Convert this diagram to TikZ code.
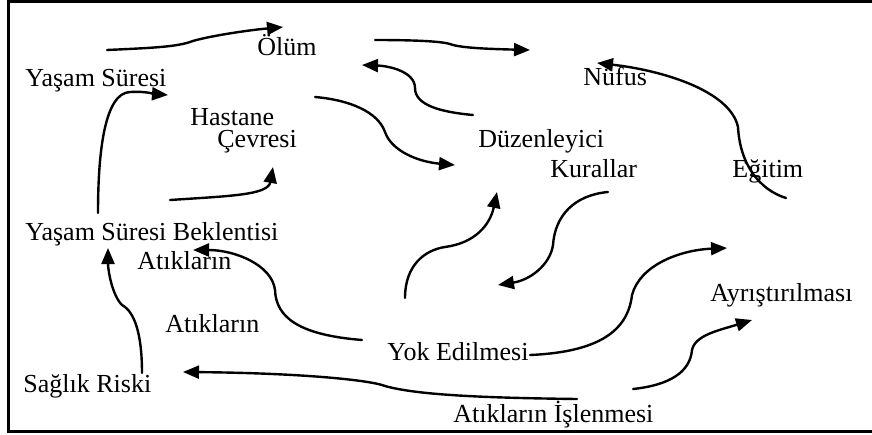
\documentclass[tikz,border=0pt]{standalone}
\usepackage{fontspec}
\setmainfont{Liberation Serif}
\usetikzlibrary{arrows.meta}
\begin{document}
\begin{tikzpicture}[x=0.5pt,y=-0.5pt,
  lbl/.style={anchor=base west,inner sep=0pt,font=\fontsize{13}{15}\selectfont},
  link/.style={line width=1.2pt,line cap=round,-{Triangle[length=8pt,width=6.5pt]}},
  frame/.style={line width=1.5pt}]
\useasboundingbox (0,0) rectangle (872,434);
% open frame (right side runs off the page)
\draw[frame] (872,1) -- (8,1) -- (8,431) -- (872,431);

% labels
\node[lbl] (ys)     at (25,86)   {Yaşam Süresi};
\node[lbl] (olum)   at (257,55)  {Ölüm};
\node[lbl] (hast)   at (190,125) {Hastane};
\node[lbl] (cevre)  at (217,147) {Çevresi};
\node[lbl] (nufus)  at (583,85)  {Nüfus};
\node[lbl] (duz)    at (478,147) {Düzenleyici};
\node[lbl] (kur)    at (550,177) {Kurallar};
\node[lbl] (egit)   at (732,177) {Eğitim};
\node[lbl] (ysb)    at (25,240)  {Yaşam Süresi Beklentisi};
\node[lbl] (atik1)  at (137,269) {Atıkların};
\node[lbl] (atik2)  at (165,332) {Atıkların};
\node[lbl] (yok)    at (387,360) {Yok Edilmesi};
\node[lbl] (ayr)    at (710,301) {Ayrıştırılması};
\node[lbl] (saglik) at (23,392)  {Sağlık Riski};
\node[lbl] (islen)  at (453,422) {Atıkların İşlenmesi};

% connector end points
\coordinate (a1s) at (107,50);  \coordinate (a1e) at (283,27);
\coordinate (a2s) at (375,40);  \coordinate (a2e) at (530,50);
\coordinate (a3s) at (473,115); \coordinate (a3e) at (362,65);
\coordinate (a4s) at (315,97);  \coordinate (a4e) at (455,165);
\coordinate (a5s) at (98,213);  \coordinate (a5e) at (168,95);
\coordinate (a6s) at (170,200); \coordinate (a6e) at (273,167);
\coordinate (a7s) at (786,198); \coordinate (a7e) at (597,63);
\coordinate (a8s) at (608,192); \coordinate (a8e) at (498,285);
\coordinate (a9s) at (405,298); \coordinate (a9e) at (497,192);
\coordinate (a10s) at (362,340); \coordinate (a10e) at (193,250);
\coordinate (a11s) at (142,373); \coordinate (a11e) at (108,248);
\coordinate (a12s) at (577,399); \coordinate (a12e) at (183,372);
\coordinate (a13s) at (530,355); \coordinate (a13e) at (727,248);
\coordinate (a14s) at (633,389); \coordinate (a14e) at (752,320);

% curved arrows
\draw[link] (a1s) .. controls (150,48) and (175,47) .. (190,42)
                  .. controls (200,38) and (240,31) .. (a1e);
\draw[link] (a2s) .. controls (410,40) and (440,41) .. (450,44)
                  .. controls (460,48) and (490,49) .. (a2e);
\draw[link] (a3s) .. controls (440,112) and (415,105) .. (415,88)
                  .. controls (415,72) and (390,66) .. (a3e);
\draw[link] (a4s) .. controls (350,100) and (378,112) .. (385,132)
                  .. controls (392,152) and (420,162) .. (a4e);
\draw[link] (a5s) .. controls (98,150) and (105,93) .. (130,92)
                  .. controls (145,91) and (155,94) .. (a5e);
\draw[link] (a6s) .. controls (230,196) and (268,195) .. (a6e);
\draw[link] (a7s) .. controls (760,190) and (740,165) .. (738,127)
                  .. controls (730,90) and (660,70) .. (a7e);
\draw[link] (a8s) .. controls (575,195) and (555,215) .. (553,245)
                  .. controls (550,265) and (530,280) .. (a8e);
\draw[link] (a9s) .. controls (405,265) and (425,250) .. (445,247)
                  .. controls (475,243) and (490,225) .. (a9e);
\draw[link] (a10s) .. controls (300,335) and (276,318) .. (275,290)
                   .. controls (272,265) and (235,250) .. (a10e);
\draw[link] (a11s) .. controls (142,335) and (135,312) .. (122,305)
                   .. controls (112,295) and (108,270) .. (a11e);
\draw[link] (a12s) .. controls (500,398) and (420,396) .. (385,386)
                   .. controls (370,380) and (300,373) .. (a12e);
\draw[link] (a13s) .. controls (600,352) and (628,330) .. (632,295)
                   .. controls (640,265) and (680,250) .. (a13e);
\draw[link] (a14s) .. controls (670,385) and (690,372) .. (692,350)
                   .. controls (695,335) and (720,330) .. (a14e);
\end{tikzpicture}
\end{document}
